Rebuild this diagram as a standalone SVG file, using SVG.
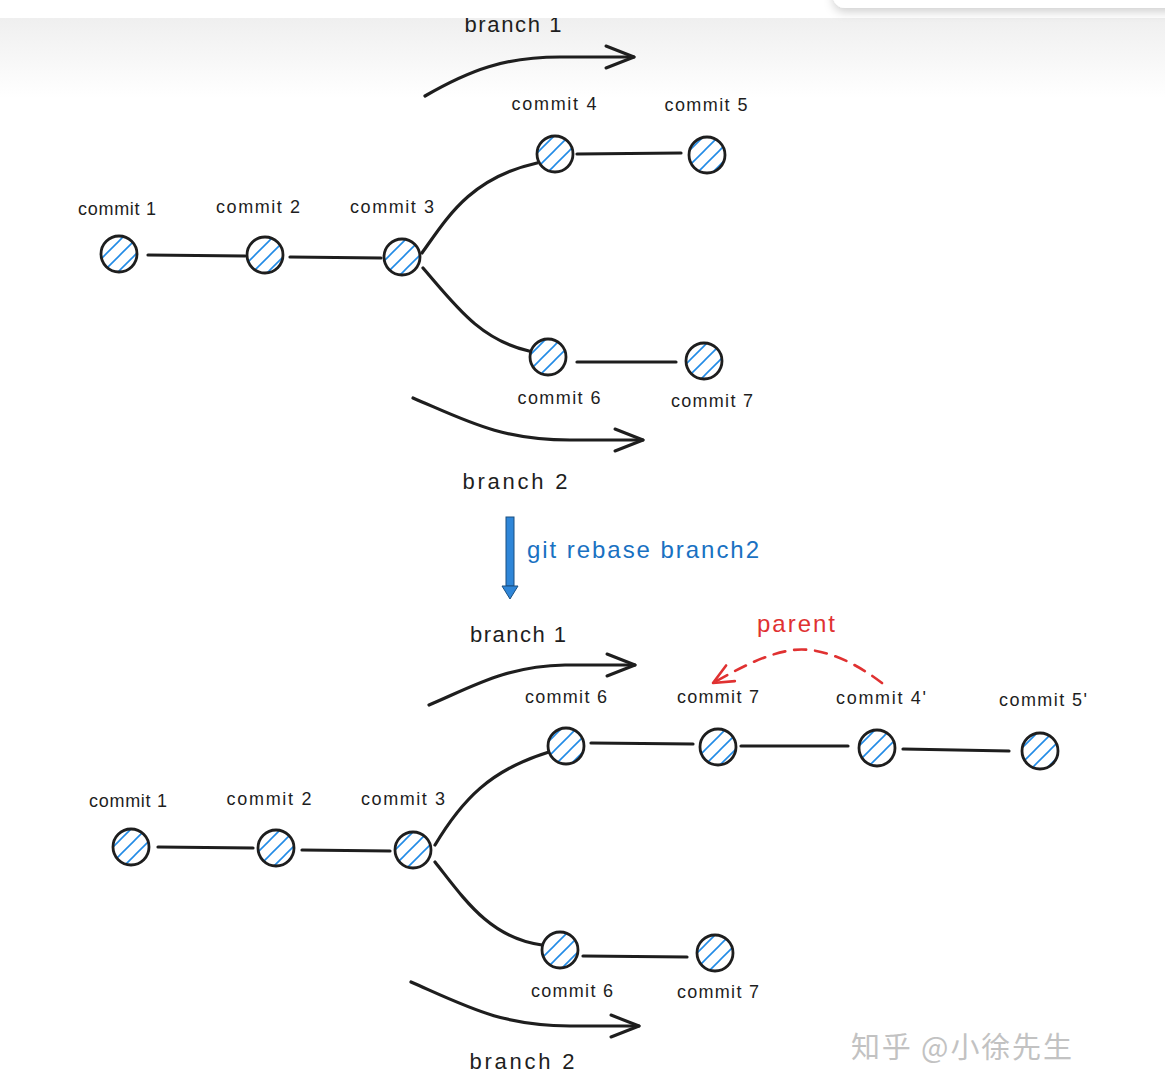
<svg xmlns="http://www.w3.org/2000/svg" width="1165" height="1084" viewBox="0 0 1165 1084">
<style>
.lbl{font-family:"Liberation Sans","Noto Sans",sans-serif;font-size:18px;fill:#1e1e1e;text-anchor:middle}
.br{font-family:"Liberation Sans","Noto Sans",sans-serif;font-size:22px;fill:#1e1e1e;text-anchor:middle}
.node{fill:url(#hatch);stroke:#1e1e1e;stroke-width:2.8}
.edge{fill:none;stroke:#1e1e1e;stroke-width:3.2;stroke-linecap:round}
.arr{fill:none;stroke:#1e1e1e;stroke-width:3.2;stroke-linecap:round;stroke-linejoin:round}
</style>
<defs>
<pattern id="hatch" patternUnits="userSpaceOnUse" width="15" height="15">
<rect width="15" height="15" fill="#fff"/>
<path d="M-2,17 L17,-2 M-2,2 L2,-2 M13,17 L17,13" stroke="#228be6" stroke-width="1.6"/>
</pattern>
<linearGradient id="topg" x1="0" y1="0" x2="0" y2="1">
<stop offset="0" stop-color="#efefef"/>
<stop offset="1" stop-color="#ffffff"/>
</linearGradient>
<filter id="sh" x="-10%" y="-100%" width="120%" height="400%">
<feDropShadow dx="0" dy="4" stdDeviation="5" flood-color="#000" flood-opacity="0.18"/>
</filter>
<marker id="chev" markerUnits="userSpaceOnUse" markerWidth="40" markerHeight="40" refX="30" refY="12" orient="auto" viewBox="0 0 40 24">
<path d="M2,1 L30,12 L2,23" fill="none" stroke="#1e1e1e" stroke-width="3" stroke-linecap="round" stroke-linejoin="round"/>
</marker>
<marker id="redchev" markerUnits="userSpaceOnUse" markerWidth="30" markerHeight="30" refX="22" refY="10" orient="auto" viewBox="0 0 30 20">
<path d="M2,1 L22,10 L2,19" fill="none" stroke="#e03131" stroke-width="2.6" stroke-linecap="round" stroke-linejoin="round"/>
</marker>
</defs>
<rect width="1165" height="1084" fill="#fff"/>
<rect x="0" y="18" width="1165" height="80" fill="url(#topg)"/>

<g id="connectors">
<path class="edge" d="M148,255 L245,256"/>
<path class="edge" d="M290,257 L381,258"/>
<path class="edge" d="M422,253 C447,218 470,178 537,163"/>
<path class="edge" d="M577,154 L681,153"/>
<path class="edge" d="M423,268 C455,305 480,340 529,351"/>
<path class="edge" d="M577,362 L676,362"/>
<path class="arr" d="M425,96 C470,70 505,57 560,57 L634,57" marker-end="url(#chev)"/>
<path class="arr" d="M413,398 C465,420 500,440 570,440 L643,440" marker-end="url(#chev)"/>
<path class="edge" d="M158,847 L253,848"/>
<path class="edge" d="M302,850 L390,851"/>
<path class="edge" d="M435,845 C462,800 490,770 549,752"/>
<path class="edge" d="M591,743 L693,744"/>
<path class="edge" d="M741,746 L848,746"/>
<path class="edge" d="M903,749 L1009,751"/>
<path class="edge" d="M435,862 C465,900 490,938 542,945"/>
<path class="edge" d="M583,956 L687,957"/>
<path class="arr" d="M429,705 C470,688 505,666 565,665 L635,665" marker-end="url(#chev)"/>
<path class="arr" d="M411,982 C470,1008 500,1025 570,1026 L639,1026" marker-end="url(#chev)"/>
<path d="M882,683 C860,666 825,646 793,650 C765,654 740,668 713,683" fill="none" stroke="#e03131" stroke-width="2.6" stroke-dasharray="12 9" stroke-linecap="round" marker-end="url(#redchev)"/>
<rect x="506" y="517" width="8" height="69" fill="#2f86d8" stroke="#1a4f80" stroke-width="1"/>
<path d="M502,586 L518,586 L510,599 Z" fill="#2f86d8" stroke="#1a4f80" stroke-width="1"/>
</g>

<g id="top-branch1"><text class="br" x="513" y="32" textLength="97">branch 1</text></g>
<g id="top-branch2"><text class="br" x="515" y="489" textLength="105">branch 2</text></g>

<g id="t-c1"><circle class="node" cx="119" cy="254" r="18"/><text class="lbl" x="117" y="215" textLength="78">commit 1</text></g>
<g id="t-c2"><circle class="node" cx="265" cy="255" r="18"/><text class="lbl" x="258" y="213" textLength="84">commit 2</text></g>
<g id="t-c3"><circle class="node" cx="402" cy="257" r="18"/><text class="lbl" x="392" y="213" textLength="84">commit 3</text></g>
<g id="t-c4"><circle class="node" cx="555" cy="154" r="18"/><text class="lbl" x="554" y="110" textLength="85">commit 4</text></g>
<g id="t-c5"><circle class="node" cx="707" cy="155" r="18"/><text class="lbl" x="706" y="111" textLength="83">commit 5</text></g>
<g id="t-c6"><circle class="node" cx="548" cy="357" r="18"/><text class="lbl" x="559" y="404" textLength="83">commit 6</text></g>
<g id="t-c7"><circle class="node" cx="704" cy="361" r="18"/><text class="lbl" x="712" y="407" textLength="82">commit 7</text></g>

<g id="rebase-label"><text x="527" y="558" font-family="Liberation Sans, Noto Sans, sans-serif" font-size="24" fill="#1971c2" textLength="232">git rebase branch2</text></g>

<g id="bottom-branch1"><text class="br" x="518" y="642" textLength="96">branch 1</text></g>
<g id="bottom-branch2"><text class="br" x="522" y="1069" textLength="105">branch 2</text></g>
<g id="parent-label"><text x="796" y="632" font-family="Liberation Sans, Noto Sans, sans-serif" font-size="24" fill="#e03131" text-anchor="middle" textLength="78">parent</text></g>

<g id="b-c1"><circle class="node" cx="131" cy="847" r="18"/><text class="lbl" x="128" y="807" textLength="78">commit 1</text></g>
<g id="b-c2"><circle class="node" cx="276" cy="848" r="18"/><text class="lbl" x="269" y="805" textLength="85">commit 2</text></g>
<g id="b-c3"><circle class="node" cx="413" cy="850" r="18"/><text class="lbl" x="403" y="805" textLength="84">commit 3</text></g>
<g id="b-c6"><circle class="node" cx="566" cy="746" r="18"/><text class="lbl" x="566" y="703" textLength="82">commit 6</text></g>
<g id="b-c7"><circle class="node" cx="718" cy="747" r="18"/><text class="lbl" x="718" y="703" textLength="82">commit 7</text></g>
<g id="b-c4p"><circle class="node" cx="877" cy="748" r="18"/><text class="lbl" x="881" y="704" textLength="90">commit 4'</text></g>
<g id="b-c5p"><circle class="node" cx="1040" cy="751" r="18"/><text class="lbl" x="1043" y="706" textLength="88">commit 5'</text></g>
<g id="b-c6b"><circle class="node" cx="560" cy="950" r="18"/><text class="lbl" x="572" y="997" textLength="82">commit 6</text></g>
<g id="b-c7b"><circle class="node" cx="715" cy="953" r="18"/><text class="lbl" x="718" y="998" textLength="82">commit 7</text></g>

<g id="watermark"><text x="851" y="1058" font-family="Noto Sans CJK SC, sans-serif" font-size="29" fill="#c2c2c2" textLength="221">知乎 @小徐先生</text></g>

<rect x="0" y="0" width="833" height="18" fill="#fff"/>
<rect x="833" y="-30" width="360" height="38" rx="12" fill="#fff" filter="url(#sh)"/>
</svg>
